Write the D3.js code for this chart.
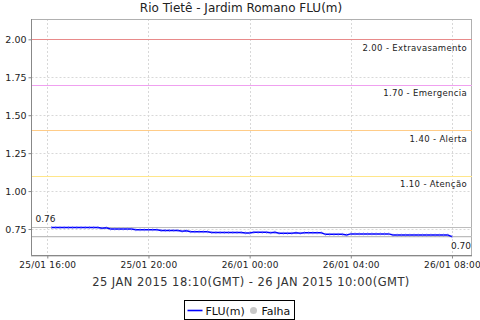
<!DOCTYPE html>
<html lang="pt">
<head>
    <meta charset="UTF-8">
    <title>Rio Tietê - Jardim Romano FLU(m)</title>
    <script src="https://d3js.org/d3.v7.min.js"></script>
    <style>
        body {
            margin: 0;
            padding: 0;
            background-color: #fff;
            font-family: 'DejaVu Sans', sans-serif;
        }
        svg {
            display: block;
        }
        .grid line {
            stroke: #d8d8d8;
            stroke-dasharray: 2,2;
        }
    </style>
</head>
<body>
    <svg width="480" height="320"></svg>
    <script>
        // leituras a cada 10 min, horario local (GMT-2)
        const startTime = "2015-01-25T16:10";
        const stepMinutes = 10;
        const levels = [
            0.76, 0.76, 0.76, 0.76, 0.76, 0.76, 0.76, 0.76, 0.76, 0.76, 0.76, 0.76,
            0.755, 0.758,
            0.75, 0.75, 0.75, 0.75, 0.75, 0.75,
            0.745, 0.745, 0.745, 0.745, 0.745, 0.745,
            0.74, 0.74, 0.74, 0.74, 0.74,
            0.735, 0.738,
            0.732, 0.732, 0.732, 0.732, 0.732,
            0.727, 0.727, 0.727, 0.727, 0.727, 0.727, 0.727, 0.727,
            0.724, 0.724,
            0.728, 0.728, 0.728, 0.728,
            0.725, 0.729,
            0.722, 0.722, 0.722, 0.722,
            0.725, 0.722,
            0.725, 0.725, 0.725, 0.725, 0.725,
            0.715, 0.715, 0.715, 0.715, 0.715,
            0.711,
            0.718, 0.718, 0.718, 0.718, 0.718, 0.718, 0.718, 0.718, 0.718, 0.718,
            0.71, 0.71, 0.71, 0.71, 0.71, 0.71, 0.71, 0.71, 0.71, 0.71, 0.71, 0.71, 0.71, 0.71,
            0.70
        ];

        const thresholdValues = [2.00, 1.70, 1.40, 1.10];
        const thresholdNames = ["Extravasamento", "Emergencia", "Alerta", "Atenção"];
        const thresholdColors = ["#e88a8a", "#f0a0f0", "#ffcc88", "#ffe68a"];

        const yTicks = [0.75, 1.00, 1.25, 1.50, 1.75, 2.00];
        const xTickTimes = ["2015-01-25T16:00", "2015-01-25T20:00", "2015-01-26T00:00", "2015-01-26T04:00", "2015-01-26T08:00"];

        const title = "Rio Tietê - Jardim Romano FLU(m)";
        const subtitle = "25 JAN 2015 18:10(GMT) - 26 JAN 2015 10:00(GMT)";

        const parse = d3.timeParse("%Y-%m-%dT%H:%M");
        const t0 = parse(startTime);
        const data = levels.map((v, i) => ({ t: d3.timeMinute.offset(t0, i * stepMinutes), v: v }));

        const margin = { left: 31.5, right: 8, top: 19, bottom: 64.5 };
        const width = 480, height = 320;
        const svg = d3.select("svg");

        // margem de 5% no tempo, como no grafico original
        const tExt = d3.extent(data, d => d.t);
        const pad = (tExt[1] - tExt[0]) * 0.05;
        const x = d3.scaleTime()
            .domain([new Date(+tExt[0] - pad), new Date(+tExt[1] + pad)])
            .range([margin.left, width - margin.right]);
        const y = d3.scaleLinear()
            .domain([0.5755, 2.134])
            .range([height - margin.bottom, margin.top]);

        const x0 = margin.left, x1 = width - margin.right;
        const y0 = height - margin.bottom, y1 = margin.top;

        // grade
        const grid = svg.append("g").attr("class", "grid");
        grid.selectAll(".gy")
            .data(yTicks)
            .enter().append("line")
            .attr("x1", x0).attr("x2", x1)
            .attr("y1", d => Math.round(y(d)) + 0.5)
            .attr("y2", d => Math.round(y(d)) + 0.5);
        grid.selectAll(".gx")
            .data(xTickTimes.map(parse))
            .enter().append("line")
            .attr("y1", y1).attr("y2", y0)
            .attr("x1", d => Math.round(x(d)) + 0.5)
            .attr("x2", d => Math.round(x(d)) + 0.5);

        // borda
        svg.append("rect")
            .attr("x", x0).attr("y", y1 + 0.5)
            .attr("width", x1 - x0 - 0.5).attr("height", y0 - y1)
            .attr("fill", "none")
            .attr("stroke", "#b0b0b0");

        // linhas de cota
        svg.selectAll(".thr")
            .data(thresholdValues)
            .enter().append("line")
            .attr("x1", x0).attr("x2", x1)
            .attr("y1", d => Math.round(y(d)) + 0.5)
            .attr("y2", d => Math.round(y(d)) + 0.5)
            .attr("stroke", (d, i) => thresholdColors[i])
            .attr("stroke-width", 1.2);

        svg.selectAll(".thrlabel")
            .data(thresholdValues)
            .enter().append("text")
            .attr("x", x1 - 5)
            .attr("y", d => y(d) + 11.5)
            .attr("text-anchor", "end")
            .attr("font-size", "8.5px")
            .attr("letter-spacing", "0.35px")
            .attr("fill", "#222")
            .text((d, i) => d3.format(".2f")(d) + " - " + thresholdNames[i]);

        // linhas de maximo e minimo
        const vmax = d3.max(levels), vmin = d3.min(levels);
        svg.selectAll(".mm")
            .data([vmax, vmin])
            .enter().append("line")
            .attr("x1", x0).attr("x2", x1)
            .attr("y1", d => y(d))
            .attr("y2", d => y(d))
            .attr("stroke", "#bdbdbd")
            .attr("stroke-width", 1.2);

        // serie
        const line = d3.line()
            .x(d => x(d.t))
            .y(d => y(d.v));
        svg.append("path")
            .datum(data)
            .attr("d", line)
            .attr("fill", "none")
            .attr("stroke", "#0000ff")
            .attr("stroke-width", 1.5);
        svg.selectAll(".pt")
            .data(data)
            .enter().append("rect")
            .attr("x", d => x(d.t) - 0.5)
            .attr("y", d => y(d.v) - 1.5)
            .attr("width", 1).attr("height", 3)
            .attr("fill", "#6a6aff")
            .attr("opacity", 0.6);

        // rotulos de inicio e fim
        svg.append("text")
            .attr("x", x(data[0].t) - 16)
            .attr("y", y(data[0].v) - 6)
            .attr("font-size", "9px")
            .attr("fill", "#222")
            .text(d3.format(".2f")(data[0].v));
        svg.append("text")
            .attr("x", x(data[data.length - 1].t) + 19)
            .attr("y", y(data[data.length - 1].v) + 12.5)
            .attr("text-anchor", "end")
            .attr("font-size", "9px")
            .attr("fill", "#222")
            .text(d3.format(".2f")(data[data.length - 1].v));

        // eixos
        const yAxis = d3.axisLeft(y)
            .tickValues(yTicks)
            .tickSize(3)
            .tickFormat(d3.format(".2f"));
        const gy = svg.append("g")
            .attr("transform", `translate(${x0},0)`)
            .call(yAxis);
        gy.select(".domain").attr("stroke", "#888").attr("d", `M0,${y1}V${y0}`);
        gy.selectAll(".tick line").attr("stroke", "#888");
        gy.selectAll(".tick text")
            .attr("font-family", "'DejaVu Sans', sans-serif")
            .attr("font-size", "9.5px")
            .attr("fill", "#222")
            .attr("x", -5);

        const xAxis = d3.axisBottom(x)
            .tickValues(xTickTimes.map(parse))
            .tickSize(3)
            .tickFormat(d3.timeFormat("%d/%m %H:%M"));
        const gx = svg.append("g")
            .attr("transform", `translate(0,${y0})`)
            .call(xAxis);
        gx.select(".domain").attr("stroke", "#888").attr("d", `M${x0},0H${x1}`);
        gx.selectAll(".tick line").attr("stroke", "#888");
        gx.selectAll(".tick text")
            .attr("font-family", "'DejaVu Sans', sans-serif")
            .attr("font-size", "9px")
            .attr("letter-spacing", "0.2px")
            .attr("fill", "#222")
            .attr("y", 6);

        // titulos
        svg.append("text")
            .attr("x", 241).attr("y", 12)
            .attr("text-anchor", "middle")
            .attr("font-size", "12px")
            .attr("fill", "#222")
            .text(title);
        svg.append("text")
            .attr("x", 251).attr("y", 286)
            .attr("text-anchor", "middle")
            .attr("font-size", "11.5px")
            .attr("letter-spacing", "0.45px")
            .attr("fill", "#333")
            .text(subtitle);

        // legenda
        const lg = svg.append("g").attr("transform", "translate(184.5,300.5)");
        lg.append("rect")
            .attr("width", 110).attr("height", 19)
            .attr("fill", "#fff").attr("stroke", "#000");
        lg.append("line")
            .attr("x1", 3).attr("x2", 18)
            .attr("y1", 10).attr("y2", 10)
            .attr("stroke", "#0000ff").attr("stroke-width", 1.6);
        lg.append("text")
            .attr("x", 21).attr("y", 14)
            .attr("font-size", "11px").attr("fill", "#111")
            .text("FLU(m)");
        lg.append("circle")
            .attr("cx", 69).attr("cy", 10).attr("r", 3.5)
            .attr("fill", "#c8c8c8");
        lg.append("text")
            .attr("x", 77).attr("y", 14)
            .attr("font-size", "11px").attr("fill", "#111")
            .text("Falha");
    </script>
</body>
</html>
